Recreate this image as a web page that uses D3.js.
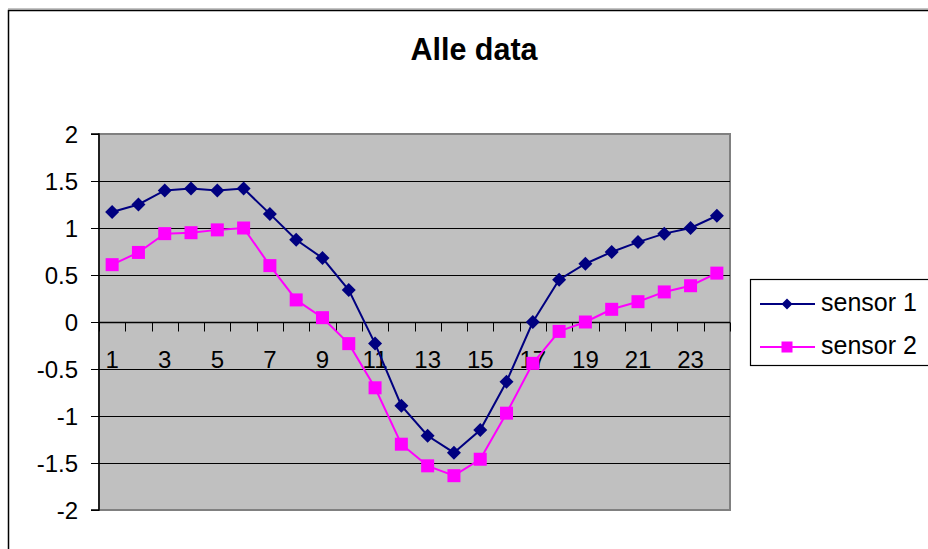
<!DOCTYPE html>
<html><head><meta charset="utf-8">
<script src="https://cdn.jsdelivr.net/npm/d3@7"></script>
<style>html,body{margin:0;padding:0;background:#fff;}svg{display:block;font-family:"Liberation Sans",Arial,sans-serif;}</style>
</head><body>
<svg id="chart" width="928" height="549"></svg>
<script>
const categories = [1,2,3,4,5,6,7,8,9,10,11,12,13,14,15,16,17,18,19,20,21,22,23,24];
const sensor1 = [1.17,1.25,1.40,1.42,1.40,1.42,1.15,0.875,0.68,0.34,-0.23,-0.89,-1.21,-1.39,-1.15,-0.635,0.0,0.45,0.62,0.745,0.85,0.94,1.00,1.13];
const sensor2 = [0.61,0.74,0.94,0.95,0.98,1.00,0.60,0.235,0.046,-0.23,-0.70,-1.30,-1.53,-1.635,-1.46,-0.97,-0.44,-0.10,0.0,0.135,0.216,0.32,0.386,0.52];
const seriesNames = ["sensor 1","sensor 2"];
const yTicks = [-2,-1.5,-1,-0.5,0,0.5,1,1.5,2];
const xLabels = [1,3,5,7,9,11,13,15,17,19,21,23];
const title = "Alle data";

const svg = d3.select("#chart");
const L = 99, R = 730, T = 134, B = 510;

// outer chart border
svg.append("path").attr("d", `M8.5,549 V10.5 H928`).attr("fill","none").attr("stroke","#000").attr("stroke-width",1.5);
svg.append("line").attr("x1",8).attr("x2",928).attr("y1",9).attr("y2",9).attr("stroke","#888").attr("stroke-width",1);

svg.append("text").attr("x",474).attr("y",60).attr("text-anchor","middle")
  .attr("font-size",30.5).attr("font-weight","bold").text(title);

const x = d3.scaleBand().domain(categories).range([L, R]).padding(0);
const y = d3.scaleLinear().domain([-2, 2]).range([B, T]);

// plot area
svg.append("rect").attr("x",L).attr("y",T).attr("width",R-L).attr("height",B-T)
  .attr("fill","#C0C0C0").attr("stroke","#808080").attr("stroke-width",2);

// gridlines
svg.append("g").selectAll("line").data(yTicks.filter(d=>d!==-2 && d!==2)).join("line")
  .attr("x1",L).attr("x2",R).attr("y1",d=>Math.round(y(d))+0.5).attr("y2",d=>Math.round(y(d))+0.5)
  .attr("stroke","#000").attr("stroke-width",1);

// y axis
const yAxis = svg.append("g").attr("transform",`translate(${L},0)`)
  .call(d3.axisLeft(y).tickValues(yTicks).tickSize(8).tickPadding(13).tickFormat(d=>String(d)));
yAxis.select(".domain").attr("stroke","#000").attr("stroke-width",1.5).attr("d",`M-8,${T}H0V${B}H-8`);
yAxis.selectAll(".tick line").attr("stroke","#000");
yAxis.selectAll(".tick text").attr("font-size",24).attr("fill","#000").attr("font-family","'Liberation Sans',Arial,sans-serif").attr("dy","0.35em");

// x axis at zero
const y0 = Math.round(y(0)) + 0.5;
svg.append("line").attr("x1",L).attr("x2",R).attr("y1",y0).attr("y2",y0).attr("stroke","#000").attr("stroke-width",1.5);
const bounds = categories.map(c => x(c)).concat([x(categories[categories.length-1]) + x.bandwidth()]);
svg.append("g").selectAll("line").data(bounds).join("line")
  .attr("x1",d=>Math.round(d)+0.5).attr("x2",d=>Math.round(d)+0.5).attr("y1",y0).attr("y2",y0+9)
  .attr("stroke","#000").attr("stroke-width",1);
svg.append("g").selectAll("text").data(xLabels).join("text")
  .attr("x",d=>x(d)+x.bandwidth()/2).attr("y",y0+45).attr("text-anchor","middle")
  .attr("font-size",24).attr("fill","#000").text(d=>d);

// series
const colors = ["#000080","#FF00FF"];
const data = [sensor1, sensor2];
const line = d3.line().x((d,i)=>x(categories[i])+x.bandwidth()/2).y(d=>y(d));
data.forEach((vals, si) => {
  svg.append("path").datum(vals).attr("d", line).attr("fill","none")
    .attr("stroke", colors[si]).attr("stroke-width", 2);
});
const diamond = (cx, cy, r) => `M${cx},${cy-r}L${cx+r},${cy}L${cx},${cy+r}L${cx-r},${cy}Z`;
svg.append("g").selectAll("path").data(sensor1).join("path")
  .attr("d",(d,i)=>diamond(x(categories[i])+x.bandwidth()/2, y(d), 7)).attr("fill","#000080");
svg.append("g").selectAll("rect").data(sensor2).join("rect")
  .attr("x",(d,i)=>x(categories[i])+x.bandwidth()/2-6.5).attr("y",d=>y(d)-6.5)
  .attr("width",13).attr("height",13).attr("fill","#FF00FF");

// legend
svg.append("rect").attr("x",750.5).attr("y",279.5).attr("width",190).attr("height",86)
  .attr("fill","#fff").attr("stroke","#000").attr("stroke-width",1.2);
const ly = [304, 347];
seriesNames.forEach((name, si) => {
  svg.append("line").attr("x1",760).attr("x2",815).attr("y1",ly[si]).attr("y2",ly[si])
    .attr("stroke",colors[si]).attr("stroke-width",2);
  if (si === 0) svg.append("path").attr("d",diamond(787, ly[si], 5.5)).attr("fill",colors[si]);
  else svg.append("rect").attr("x",781.5).attr("y",ly[si]-5.5).attr("width",11).attr("height",11).attr("fill",colors[si]);
  svg.append("text").attr("x",821).attr("y",ly[si]+7).attr("font-size",25).attr("fill","#000").text(name);
});
</script>
</body></html>
